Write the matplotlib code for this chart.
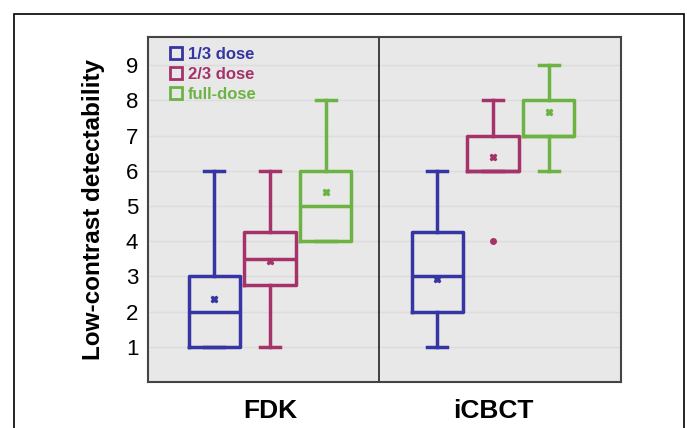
import numpy as np
import matplotlib.pyplot as plt
from matplotlib.lines import Line2D
from matplotlib.patches import Rectangle

plt.rcParams['font.family'] = ['Liberation Sans', 'DejaVu Sans']

groups = ['FDK', 'iCBCT']
doses = ['1/3 dose', '2/3 dose', 'full-dose']
colors = ['#3535a3', '#a5336a', '#6cb344']

# per group, per dose: whislo, q1, med, q3, whishi, mean, outliers
whislo = [[1, 1, 4], [1, 6, 6]]
q1 = [[1, 2.75, 4], [2, 6, 7]]
med = [[2, 3.5, 5], [3, 6, 7]]
q3 = [[3, 4.25, 6], [4.25, 7, 8]]
whishi = [[6, 6, 8], [6, 8, 9]]
means = [[2.35, 3.43, 5.4], [2.93, 6.4, 7.68]]
fliers = [[[], [], []], [[], [4], []]]

fig = plt.figure(figsize=(6.87, 4.28), dpi=100)
ax = fig.add_axes([0.2154, 0.1075, 0.6885, 0.806])
ax.set_facecolor('#e8e8e8')

offsets = [-0.25, 0, 0.25]
for g in range(2):
    for d in range(3):
        st = dict(whislo=whislo[g][d], q1=q1[g][d], med=med[g][d], q3=q3[g][d],
                  whishi=whishi[g][d], mean=means[g][d], fliers=fliers[g][d])
        c = colors[d]
        ax.bxp([st], positions=[g + 1 + offsets[d]], widths=0.23, showmeans=True,
               boxprops=dict(color=c, lw=2.5),
               medianprops=dict(color=c, lw=2.5),
               whiskerprops=dict(color=c, lw=2.5),
               capprops=dict(color=c, lw=2.5),
               capwidths=0.09,
               meanprops=dict(marker='X', markerfacecolor=c, markeredgecolor=c, markersize=5),
               flierprops=dict(marker='o', markerfacecolor=c, markeredgecolor=c, markersize=4),
               manage_ticks=False)

ax.set_xlim(0.453, 2.574)
ax.set_ylim(0, 9.8)
ax.axvline(1.489, color='#222222', lw=1.2)
ax.set_yticks(range(1, 10))
ax.yaxis.grid(True, color='#dcdcdc', lw=1)
ax.set_axisbelow(True)
ax.tick_params(axis='y', length=0, labelsize=16, pad=7)
ax.set_xticks([1, 2])
ax.set_xticklabels(groups, fontsize=19, fontweight='bold')
ax.tick_params(axis='x', length=0, pad=12)
for s in ax.spines.values():
    s.set_color('#444444')
    s.set_linewidth(1.5)
ax.set_ylabel('Low-contrast detectability', fontsize=17.5, fontweight='bold', labelpad=15)

handles = [Line2D([], [], ls='none', marker='s', markersize=9, markerfacecolor='none',
                  markeredgecolor=c, markeredgewidth=2, color=c) for c in colors]
ax.legend(handles, doses, loc='upper left', frameon=False, labelcolor=colors,
          prop=dict(weight='bold', size=12), handlelength=0.7, handletextpad=0.4,
          labelspacing=0.3, borderaxespad=0.2, bbox_to_anchor=(0.025, 1.0))

fig.patches.append(Rectangle((0.0204, -0.1), 0.975, 1.067, transform=fig.transFigure,
                             fill=False, edgecolor='black', lw=1.2))

fig.savefig('out.png', dpi=100)
